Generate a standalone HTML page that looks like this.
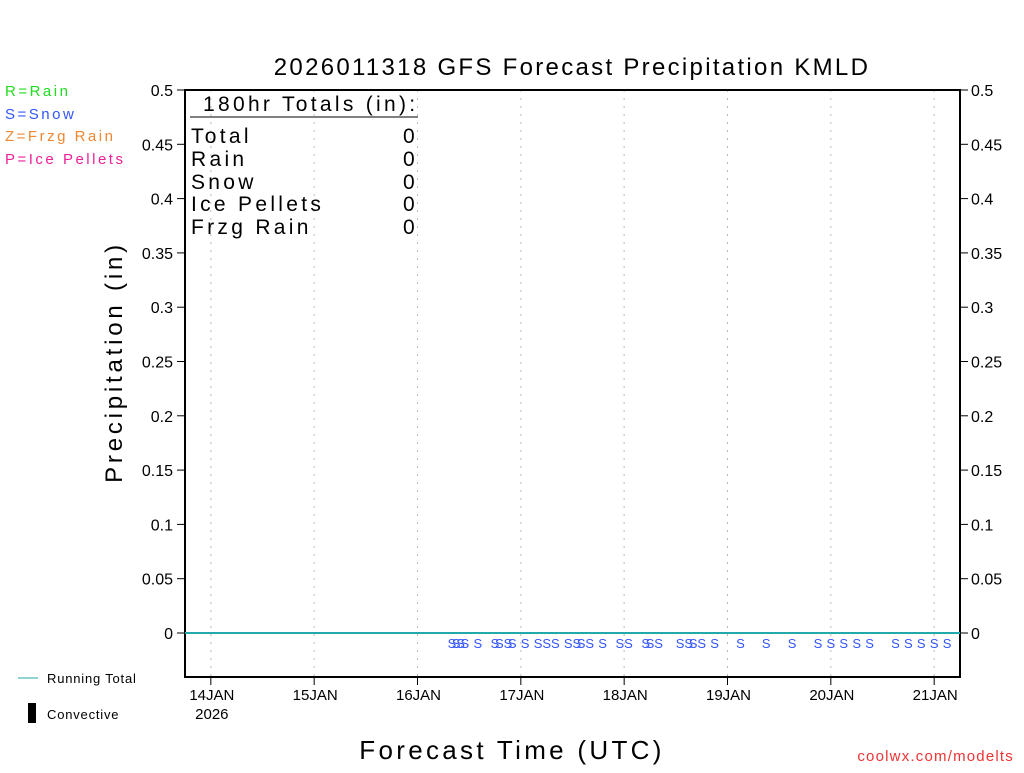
<!DOCTYPE html>
<html><head><meta charset="utf-8"><style>
body{margin:0;background:#fff;width:1024px;height:768px;overflow:hidden;font-family:"Liberation Sans",sans-serif}
svg text{font-family:"Liberation Sans",sans-serif}
</style></head><body>
<svg id="c" width="1024" height="768" xmlns="http://www.w3.org/2000/svg">
<text x="572" y="75" font-size="24" letter-spacing="2.3" text-anchor="middle">2026011318 GFS Forecast Precipitation KMLD</text>
<g letter-spacing="2.5">
<text x="5" y="96" font-size="15" fill="#22dd22">R=Rain</text>
<text x="5" y="119" font-size="15" fill="#3355ff">S=Snow</text>
<text x="5" y="141" font-size="15" fill="#ee8833">Z=Frzg Rain</text>
<text x="5" y="164" font-size="15" fill="#ee2299">P=Ice Pellets</text>
</g>
<text x="122" y="362" font-size="24" letter-spacing="3.8" text-anchor="middle" transform="rotate(-90 122 362)">Precipitation (in)</text>
<text x="512" y="759" font-size="26" letter-spacing="3.3" text-anchor="middle">Forecast Time (UTC)</text>
<text x="1014" y="761" font-size="15" letter-spacing="1.2" fill="#ee3333" text-anchor="end">coolwx.com/modelts</text>
<line x1="18" y1="678" x2="38" y2="678" stroke="#22aaaa"/>
<text x="47" y="683" font-size="13" letter-spacing="0.8">Running Total</text>
<rect x="28" y="703" width="8" height="20" fill="#000"/>
<text x="47" y="719" font-size="13" letter-spacing="0.8">Convective</text>
<g id="grid"></g>
<rect x="185" y="90" width="775" height="587" fill="none" stroke="#000" stroke-width="2"/>
<g id="axes"></g>
<line x1="190" y1="117" x2="418" y2="117" stroke="#000"/>
<g font-size="21" letter-spacing="3.3">
<text x="203" y="111">180hr Totals (in):</text>
<text x="191" y="143">Total</text><text x="403" y="143">0</text>
<text x="191" y="166">Rain</text><text x="403" y="166">0</text>
<text x="191" y="189">Snow</text><text x="403" y="189">0</text>
<text x="191" y="211">Ice Pellets</text><text x="403" y="211">0</text>
<text x="191" y="234">Frzg Rain</text><text x="403" y="234">0</text>
</g>
<g id="marks"></g>
</svg>
<script>
const yTicks=[0,0.05,0.1,0.15,0.2,0.25,0.3,0.35,0.4,0.45,0.5];
const dayLabels=["14JAN","15JAN","16JAN","17JAN","18JAN","19JAN","20JAN","21JAN"];
const dayHours=[6,30,54,78,102,126,150,174];
const snowHours=[62,63,64,65,68,72,73,75,76,79,82,84,86,89,91,92,94,97,101,103,107,108,110,115,117,118,120,123,129,135,141,147,150,153,156,159,165,168,171,174,177];
const totalSeries=[0,0];
const X0=185,X1=960,Y0=633,Y1=90,HMAX=180;
const xs=h=>X0+(X1-X0)*h/HMAX;
const ys=v=>Y0+(Y1-Y0)*v/0.5;
const NS="http://www.w3.org/2000/svg";
function mk(t,a,p,txt){const e=document.createElementNS(NS,t);for(const k in a)e.setAttribute(k,a[k]);if(txt!==undefined)e.textContent=txt;document.getElementById(p).appendChild(e);return e;}
dayHours.forEach((h,i)=>{
 const g=mk('line',{x1:xs(h),x2:xs(h),y1:90,y2:677,stroke:'#bbb','stroke-dasharray':'2,6'},'grid');
 
 
 const t=mk('line',{x1:xs(h),x2:xs(h),y1:677,y2:685,stroke:'#000'},'axes');
 
 
 const l=mk('text',{x:xs(h)+1,y:700,'font-size':15,'text-anchor':'middle'},'axes',dayLabels[i]);
 
 
});
const yr=mk('text',{x:xs(6)+1,y:719,'font-size':15,'text-anchor':'middle'},'axes','2026');


yTicks.forEach(v=>{
 [[X0-8,X0,X0-12,'end'],[X1,X1+8,X1+11,'start']].forEach(s=>{
  const t=mk('line',{x1:s[0],x2:s[1],y1:ys(v),y2:ys(v),stroke:'#000'},'axes');
  
  
  const l=mk('text',{x:s[2],y:ys(v)+6,'font-size':16,'text-anchor':s[3]},'axes',String(v));
  
  
 });
});
const rt=mk('line',{x1:xs(0),x2:xs(HMAX),y1:ys(totalSeries[0]),y2:ys(totalSeries[1]),stroke:'#22aaaa','stroke-width':2},'marks');


snowHours.forEach(h=>{
 const s=mk('text',{x:xs(h),y:648,'font-size':13,fill:'#3355ff','text-anchor':'middle'},'marks','S');
 
 
});
</script>
</body></html>
